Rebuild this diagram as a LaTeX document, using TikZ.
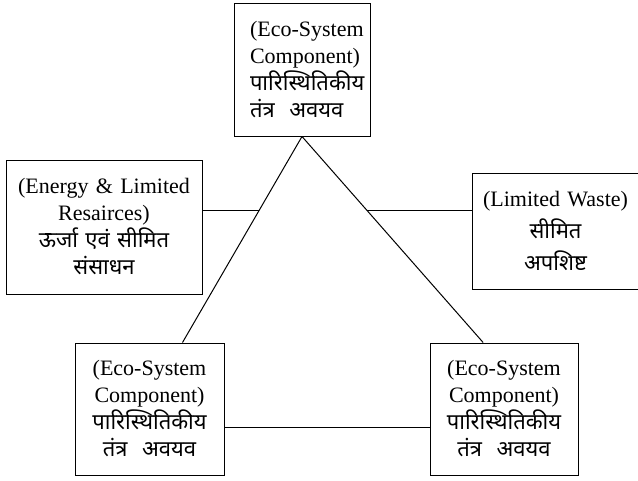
\documentclass[tikz,border=0pt]{standalone}
\usepackage{fontspec}
\setmainfont{Liberation Serif}
\newfontfamily\hindi[Script=Devanagari]{Noto Sans}
\usetikzlibrary{calc}

\tikzset{
  box/.style={draw, line width=1pt, inner xsep=6pt, inner ysep=4pt, align=center,
    font=\fontsize{22}{27}\selectfont},
  link/.style={line width=1pt},
}

\begin{document}
\begin{tikzpicture}[x=1pt, y=-1pt]
\useasboundingbox (0,0) rectangle (638,480);

\node[box, align=left, minimum width=136pt, minimum height=133pt, text width=104pt] (top) at (302,69.5)
  {\mbox{(Eco-System}\\\mbox{Component)}\\{\hindi पारिस्थितिकीय}\\{\hindi तंत्र\ \ अवयव}};
\node[box, minimum width=196pt, minimum height=134pt, text width=184pt] (energy) at (104,227)
  {(Energy \& Limited\\Resairces)\\{\hindi ऊर्जा\ एवं\ सीमित}\\{\hindi संसाधन}};
\node[box, minimum width=163pt, minimum height=116pt, text width=155pt,
  font=\fontsize{22}{32}\selectfont] (waste) at (555.5,231)
  {(Limited Waste)\\{\hindi सीमित}\\{\hindi अपशिष्ट}};
\node[box, minimum width=149pt, minimum height=132pt, text width=137pt] (left) at (149.5,409)
  {(Eco-System\\Component)\\{\hindi पारिस्थितिकीय}\\{\hindi तंत्र\ \ अवयव}};
\node[box, minimum width=148pt, minimum height=132pt, text width=136pt] (right) at (504,409)
  {(Eco-System\\Component)\\{\hindi पारिस्थितिकीय}\\{\hindi तंत्र\ \ अवयव}};

% triangle
\coordinate (lfoot) at ($(left.north west)!0.72!(left.north east)$);
\coordinate (rfoot) at ($(right.north west)!0.36!(right.north east)$);
\coordinate (lhit) at ($(top.south)!0.36!(lfoot)$);
\coordinate (rhit) at ($(top.south)!0.36!(rfoot)$);
\coordinate (base) at ($(left.south east)!0.36!(left.north east)$);

\draw[link] (top.south) -- (lfoot);
\draw[link] (top.south) -- (rfoot);
\draw[link] (base) -- (right.west |- base);

\draw[link] (energy.east |- lhit) -- (lhit);
\draw[link] (rhit) -- (waste.west |- rhit);
\end{tikzpicture}
\end{document}
